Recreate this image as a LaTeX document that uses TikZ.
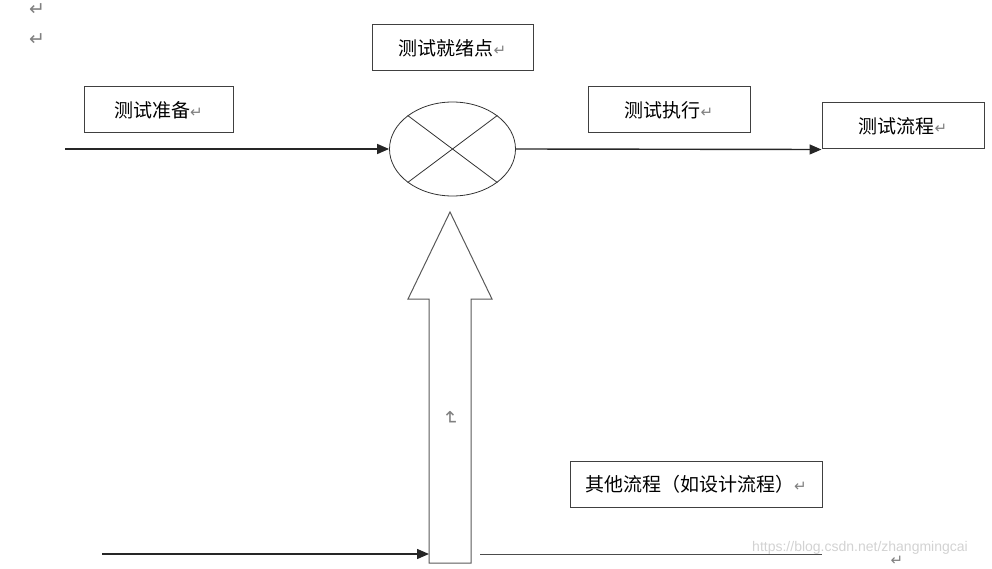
\documentclass[tikz,border=0pt]{standalone}
\usepackage{fontspec}
\newfontfamily\cjk{Noto Sans CJK SC}
\newfontfamily\markfont{DejaVu Sans}
\newfontfamily\wmfont{Liberation Sans}
\usetikzlibrary{arrows.meta,shapes.geometric}

\newcommand{\pmark}{{\markfont\color{gray}\fontsize{15}{15}\selectfont ↵}}

\begin{document}
\begin{tikzpicture}[x=1pt,y=-1pt, >={Triangle[length=12pt,width=10pt]},
	box/.style={draw=black!75,line width=1pt,minimum height=46pt,inner sep=0pt,font=\cjk\fontsize{19}{19}\selectfont},
	feed/.style={draw=black!85,line width=1.4pt,->},
	pmk/.style={text=gray,font=\markfont\fontsize{19}{19}\selectfont,inner sep=0pt}]
	\useasboundingbox (0,0) rectangle (992,569);

	\node[pmk] (m1) at (37,10) {↵};
	\node[pmk] (m2) at (37,40) {↵};

	\node[box,minimum width=161pt] (ready) at (452.5,48) {测试就绪点\pmark};
	\node[box,minimum width=149pt] (prep) at (158.5,110) {测试准备\pmark};
	\node[box,minimum width=162pt] (exec) at (669,110) {测试执行\pmark};
	\node[box,minimum width=162pt] (proc) at (903,126) {测试流程\pmark};
	\node[box,minimum width=252pt] (other) at (696,484) {其他流程（如设计流程）\pmark};

	\node[ellipse,draw=black!80,line width=0.8pt,minimum width=126pt,minimum height=94pt,inner sep=0pt] (mix) at (452.5,149) {};
	\draw[black!80,line width=0.8pt] (mix.north west) -- (mix.south east);
	\draw[black!80,line width=0.8pt] (mix.north east) -- (mix.south west);

	\coordinate (inL) at (65,149);
	\draw[feed] (inL) -- (mix.west);
	\draw[feed] (mix.east) -- (proc.south west);

	% big upward arrow
	\draw[black!65,line width=1pt] (429,563) -- (429,299) -- (408,299) -- (450,212)
		-- (492,299) -- (471,299) -- (471,563) -- cycle;
	\node[pmk,rotate=-90] (m3) at (450,418) {↵};

	\coordinate (baseL) at (102,554);
	\coordinate (shaftL) at (429,554);
	\draw[feed] (baseL) -- (shaftL);
	\coordinate (outA) at (480,554);
	\coordinate (outB) at (822,554);
	\draw[black!70,line width=1pt] (outA) -- (outB);

	\node[text=gray!35,font=\wmfont\fontsize{14}{14}\selectfont,inner sep=0pt] (wm) at (860,548) {https://blog.csdn.net/zhangmingcai};
	\node[pmk,font=\markfont\fontsize{15}{15}\selectfont] (m4) at (897,561) {↵};
\end{tikzpicture}
\end{document}
